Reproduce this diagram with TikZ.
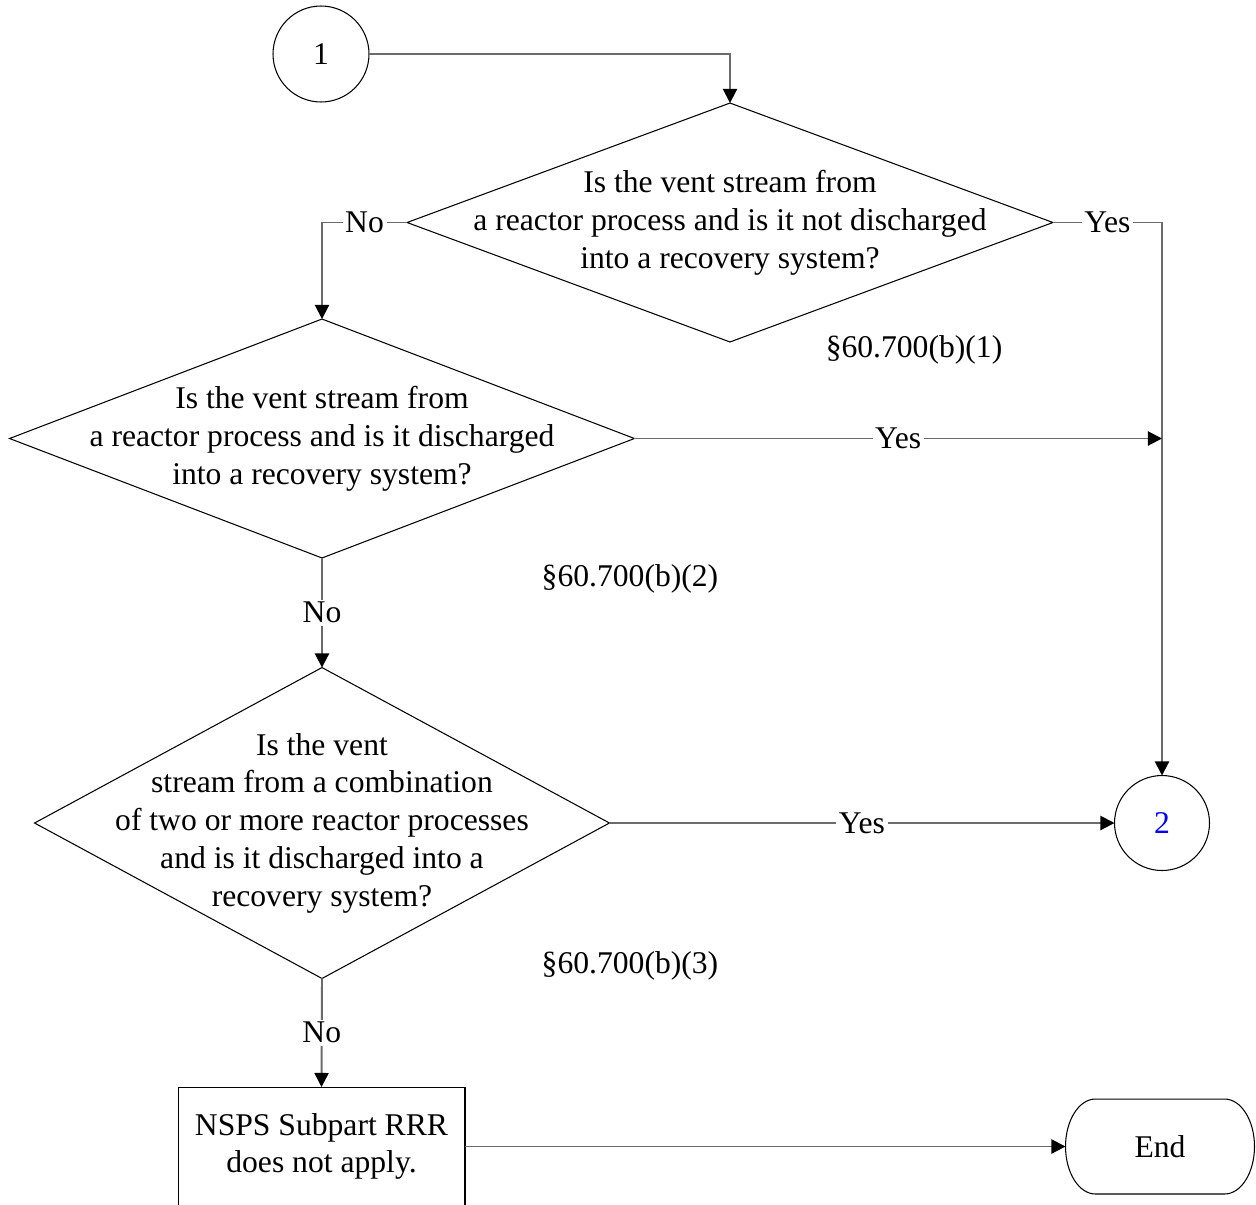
\documentclass[tikz,border=0pt]{standalone}
\usepackage{fontspec}
\setmainfont{Liberation Serif}
\usetikzlibrary{shapes.geometric,arrows.meta}
\tikzset{
  every node/.style={font=\fontsize{18}{21.5}\selectfont, outer sep=0pt},
  shapeline/.style={draw=black, line width=0.6pt},
  dia/.style={diamond, shapeline, inner sep=0pt, fill=white},
  txt/.style={align=center, inner sep=0pt},
  conn/.style={draw=black!58, line width=1.1pt, -{Triangle[length=8pt,width=8pt,color=black]}},
  lab/.style={fill=white, inner sep=1.5pt},
  conncircle/.style={circle, shapeline, minimum size=1.92cm, inner sep=0pt},
}
\begin{document}
\begin{tikzpicture}[x=0.02cm,y=-0.02cm]
\useasboundingbox (0,0) rectangle (1256,1204);

% connector circles
\node[conncircle] (c1) at (321,54) {1};
\node[conncircle, minimum size=1.9cm, text=blue] (c2) at (1162,823) {2};

% decisions
\node[dia, minimum width=12.92cm, minimum height=4.78cm] (d1) at (730,222.5) {};
\node[txt] (d1t) at (d1) {Is the vent stream from\\a reactor process and is it not discharged\\into a recovery system?};

\node[dia, minimum width=12.5cm, minimum height=4.78cm] (d2) at (322,438.5) {};
\node[txt] (d2t) at (d2) {Is the vent stream from\\a reactor process and is it discharged\\into a recovery system?};

\node[dia, minimum width=11.5cm, minimum height=6.22cm] (d3) at (322,823) {};
\node[txt] (d3t) at (d3) {Is the vent\\stream from a combination\\of two or more reactor processes\\and is it discharged into a\\recovery system?};

% process box and terminator
\node[rectangle, shapeline, txt, minimum width=5.74cm, minimum height=2.38cm] (box) at (321.5,1146.5) {NSPS Subpart RRR\\does not apply.};
\node[rectangle, minimum width=3.78cm, minimum height=1.9cm, inner sep=0pt] (end) at (1160,1146.5) {End};
\draw[shapeline] ([xshift=0.6cm]end.north west) -- ([xshift=-0.6cm]end.north east)
  arc[start angle=90, end angle=-90, x radius=0.6cm, y radius=0.95cm]
  -- ([xshift=0.6cm]end.south west)
  arc[start angle=270, end angle=90, x radius=0.6cm, y radius=0.95cm] -- cycle;

% section references
\node (r1) at (914,350) {§60.700(b)(1)};
\node (r2) at (630,579) {§60.700(b)(2)};
\node (r3) at (630,966) {§60.700(b)(3)};

% connectors
\draw[conn] (c1.east) -| (d1.north);
\draw[conn] (d1.west) -- node[lab] {No} (d1.west -| d2.north) -- (d2.north);
\draw[conn] (d1.east) -- node[lab] {Yes} (d1.east -| c2.north) -- (c2.north);
\draw[conn] (d2.east) -- node[lab] {Yes} (d2.east -| c2.north);
\draw[conn] (d2.south) -- node[lab] {No} (d3.north);
\draw[conn] (d3.east) -- node[lab] {Yes} (c2.west);
\draw[conn] (d3.south) -- node[lab] {No} (box.north);
\draw[conn] (box.east) -- (end.west);
\end{tikzpicture}
\end{document}
